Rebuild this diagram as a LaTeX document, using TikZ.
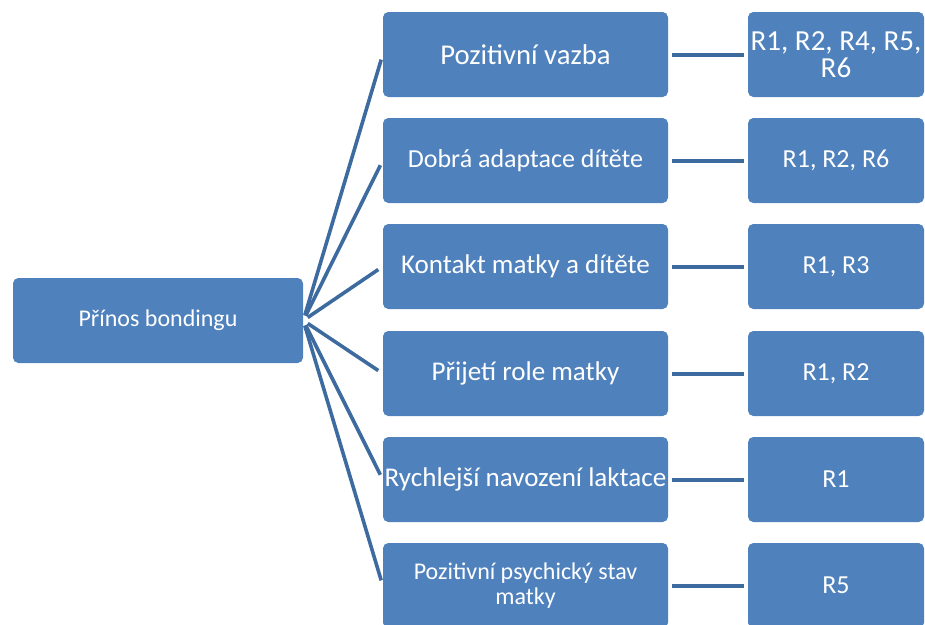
\documentclass[tikz,border=0pt]{standalone}
\usepackage{fontspec}
\setmainfont{Carlito}
\usetikzlibrary{positioning}

\definecolor{boxblue}{HTML}{4F81BD}
\definecolor{lineblue}{HTML}{3E6B9F}

\tikzset{
    item/.style={fill=boxblue, rounded corners=4pt, text=white, align=center,
        inner sep=0pt, minimum height=63.75pt},
    midbox/.style={item, minimum width=213.75pt, font=\fontsize{20.3}{22}\selectfont},
    refbox/.style={item, minimum width=132pt, font=\fontsize{19.5}{20}\selectfont},
    branch/.style={draw=lineblue, line width=2.7pt, shorten <=4pt, shorten >=4pt},
    link/.style={draw=lineblue, line width=3pt, shorten <=3pt, shorten >=3pt}
}

\begin{document}
\begin{tikzpicture}[x=0.75pt, y=-0.75pt]
    \useasboundingbox (0,0) rectangle (925,625);
    \clip (0,0) rectangle (925,625);

    % Root
    \node[item, minimum width=217.5pt, font=\fontsize{18}{20}\selectfont] (root) at (158,320.5) {Přínos bondingu};

    % Benefits
    \node[midbox, font=\fontsize{21.5}{22}\selectfont] (vazba) at (525.5,54.5) {Pozitivní vazba};
    \node[midbox, font=\fontsize{19.5}{22}\selectfont] (adapt) at (525.5,160.5) {Dobrá adaptace dítěte};
    \node[midbox] (kontakt) at (525.5,266.5) {Kontakt matky a dítěte};
    \node[midbox] (role) at (525.5,373.5) {Přijetí role matky};
    \node[midbox] (laktace) at (525.5,479.5) {Rychlejší navození laktace};
    \node[midbox, font=\fontsize{18}{19}\selectfont] (psych) at (525.5,585.5) {Pozitivní psychický stav\\matky};

    % References
    \node[refbox, font=\fontsize{21.8}{20}\selectfont] (rvazba) at (836,54.5) {R1, R2, R4, R5,\\R6};
    \node[refbox] (radapt) at (836,160.5) {R1, R2, R6};
    \node[refbox] (rkontakt) at (836,266.5) {R1, R3};
    \node[refbox] (rrole) at (836,373.5) {R1, R2};
    \node[refbox] (rlaktace) at (836,479.5) {R1};
    \node[refbox] (rpsych) at (836,585.5) {R5};

    % Branches from root
    \draw[branch] (root.east) -- (vazba.west);
    \draw[branch] (root.east) -- (adapt.west);
    \draw[branch] (root.east) -- (kontakt.west);
    \draw[branch] (root.east) -- (role.west);
    \draw[branch] (root.east) -- (laktace.west);
    \draw[branch] (root.east) -- (psych.west);

    % Links to references
    \draw[link] (vazba) -- (rvazba);
    \draw[link] (adapt) -- (radapt);
    \draw[link] (kontakt) -- (rkontakt);
    \draw[link] (role) -- (rrole);
    \draw[link] (laktace) -- (rlaktace);
    \draw[link] (psych) -- (rpsych);
\end{tikzpicture}
\end{document}
